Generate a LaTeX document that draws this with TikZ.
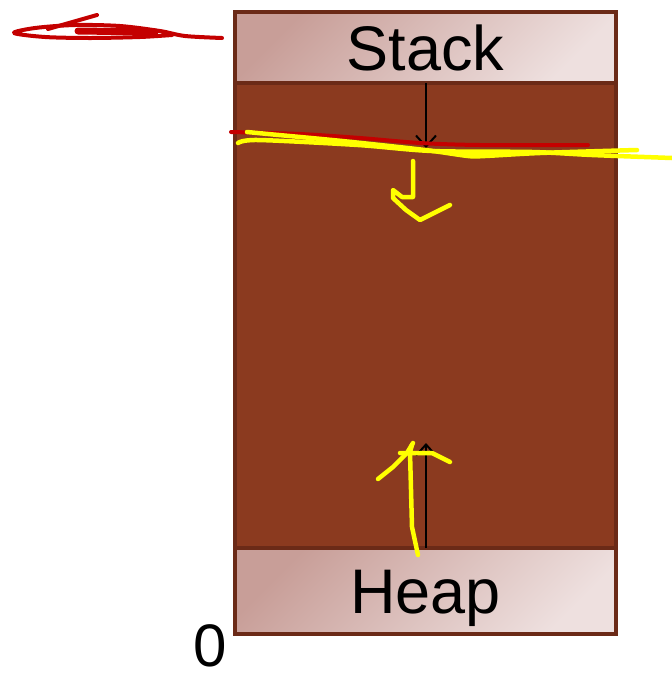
\documentclass[tikz,border=0pt]{standalone}
\usepackage{fontspec}
\setmainfont{Liberation Sans}
\usetikzlibrary{positioning,arrows.meta}

\definecolor{segfill}{RGB}{139,58,31}
\definecolor{segline}{RGB}{107,42,23}
\definecolor{labdark}{RGB}{200,158,152}
\definecolor{lablight}{RGB}{238,224,223}
\definecolor{inkred}{RGB}{196,0,0}
\definecolor{inkyellow}{RGB}{255,255,0}

\begin{document}
\begin{tikzpicture}[
        x=1pt, y=-1pt,
        every node/.style = {
            inner sep=0pt,
            outer sep=0pt,
            font=\fontsize{63}{63}\selectfont
        },
        segment/.style = {
            shape=rectangle,
            draw=segline,
            line width=4.5pt,
            minimum width=381pt
        },
        labelbox/.style = {
            segment,
            top color=labdark,
            bottom color=lablight,
            shading angle=45,
            text height=45pt,
            text depth=0pt
        },
        freebox/.style = {segment, fill=segfill},
        growarrow/.style = {draw, line width=2pt, -{Straight Barb[length=11pt,width=20pt,line width=2pt]}},
        redpen/.style = {draw=inkred, line width=4pt, line cap=round, line join=round},
        yellowpen/.style = {draw=inkyellow, line width=4.5pt, line cap=round, line join=round}
    ]
    \useasboundingbox (0,0) rectangle (672,673);

    % SEGMENTS
    \node[labelbox, minimum height=71pt] (stack) at (425.5,47.5) {Stack};
    \node[freebox, minimum height=465pt, below=0pt of stack] (free) {};
    \node[labelbox, minimum height=86pt, below=0pt of free] (heap) {Heap};
    \node[anchor=base, font=\fontsize{60}{60}\selectfont] (zero) at (210,666) {0};

    % GROWTH ARROWS
    \coordinate (stackend) at (426,148);
    \coordinate (heapend) at (426,443);
    \draw[growarrow] (stack.south -| stackend) -- (stackend);
    \draw[growarrow] (heap.north -| heapend) -- (heapend);

    % PEN MARKS
    \draw[redpen] plot[smooth] coordinates {(222,38) (185,36) (160,31) (120,26) (75,25) (35,28) (14,33) (45,37) (90,38) (140,37) (172,35)};
    \draw[redpen, line width=7pt] (78,31) -- (155,32);
    \draw[redpen] (48,29) -- (97,15);
    \draw[redpen] plot[smooth] coordinates {(231,132) (300,134) (360,138) (420,143) (480,145) (588,145)};

    \draw[yellowpen] plot[smooth] coordinates {(247,132) (268,134) (342,141) (425,150) (468,156) (485,156) (540,153) (637,150)};
    \draw[yellowpen] plot[smooth] coordinates {(238,143) (258,140) (358,145) (432,151) (532,152) (592,155) (672,158)};
    \draw[yellowpen] (413,161) -- (413,197) -- (402,197) -- (393,190) -- (393,198) -- (406,210) -- (420,220) -- (436,212) -- (450,205);

    \draw[yellowpen] (418,555) -- (412,527) -- (410,452) -- (412,445);
    \draw[yellowpen] (378,479) -- (393,467) -- (407,453) -- (413,443);
    \draw[yellowpen] (400,453) -- (432,453) -- (450,462);
\end{tikzpicture}
\end{document}
